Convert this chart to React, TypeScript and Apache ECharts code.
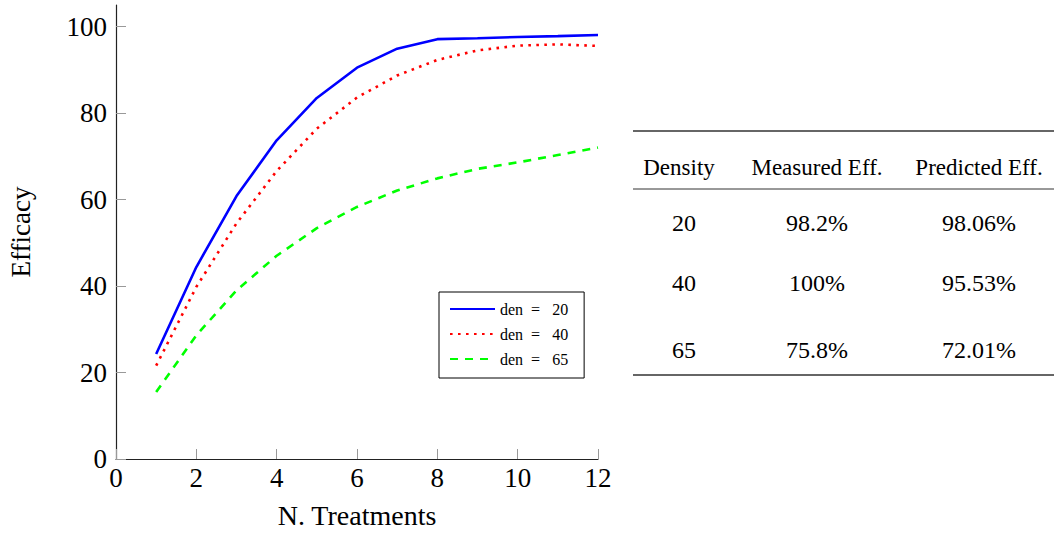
import React, { useEffect, useRef } from "react";
import * as echarts from "echarts";

const treatments = [1, 2, 3, 4, 5, 6, 7, 8, 9, 10, 11, 12];
const den20 = [24.3, 44.4, 60.8, 73.7, 83.5, 90.5, 94.9, 97.1, 97.3, 97.6, 97.8, 98.06];
const den40 = [21.6, 39.8, 54.5, 66.6, 76.4, 83.6, 88.7, 92.3, 94.5, 95.6, 95.9, 95.53];
const den65 = [15.5, 28.6, 39.0, 47.0, 53.4, 58.3, 62.1, 64.9, 67.1, 68.6, 70.3, 72.01];
const seriesNames = ["den = 20", "den = 40", "den = 65"];
const yTicks = [0, 20, 40, 60, 80, 100];

const tableHeader = ["Density", "Measured Eff.", "Predicted Eff."];
const tableDensity = ["20", "40", "65"];
const tableMeasured = ["98.2%", "100%", "75.8%"];
const tablePredicted = ["98.06%", "95.53%", "72.01%"];

const FONT = "'Liberation Serif', 'DejaVu Serif', serif";

export default function App() {
  const ref = useRef<HTMLDivElement>(null);
  useEffect(() => {
    if (!ref.current) return;
    const chart = echarts.init(ref.current, undefined, { renderer: "svg" });
    const pair = (ys: number[]) => treatments.map((x, i) => [x, ys[i]]);

    const headerX = [679, 817, 979];
    const colX = [684, 817, 979];
    const rowY = [223, 283, 350];
    const headerY = 167;
    const graphics: any[] = [];
    const rule = (y: number, w: number) => ({
      type: "line",
      shape: { x1: 633, y1: y, x2: 1054, y2: y },
      style: { stroke: "#333", lineWidth: w },
    });
    graphics.push(rule(131, 1.4), rule(189, 1), rule(375, 1.4));
    tableHeader.forEach((h, i) =>
      graphics.push({
        type: "text",
        x: headerX[i],
        y: headerY,
        style: { text: h, font: `23px ${FONT}`, fill: "#000", textAlign: "center", textVerticalAlign: "middle" },
      })
    );
    const cols = [tableDensity, tableMeasured, tablePredicted];
    cols.forEach((col, c) =>
      col.forEach((v, r) =>
        graphics.push({
          type: "text",
          x: colX[c],
          y: rowY[r],
          style: { text: v, font: `24px ${FONT}`, fill: "#000", textAlign: "center", textVerticalAlign: "middle" },
        })
      )
    );

    const lineSeries = (name: string, ys: number[], color: string, type: any) => ({
      name,
      type: "line",
      data: pair(ys),
      symbol: "none",
      lineStyle: { color, width: 2.6, type, cap: "butt" },
      itemStyle: { color },
    });

    chart.setOption({
      animation: false,
      backgroundColor: "#fff",
      textStyle: { fontFamily: FONT },
      grid: { left: 116, right: 456, top: 5, bottom: 75, containLabel: false },
      xAxis: {
        type: "value",
        min: 0,
        max: 12,
        interval: 2,
        name: "N. Treatments",
        nameLocation: "middle",
        nameGap: 42,
        nameTextStyle: { fontSize: 28, color: "#000", fontFamily: FONT },
        axisLine: { onZero: false, lineStyle: { color: "#222", width: 1.2 } },
        axisTick: { inside: true, length: 10, lineStyle: { color: "#999", width: 1 } },
        axisLabel: { fontSize: 27, color: "#000", margin: 5, fontFamily: FONT },
        splitLine: { show: false },
      },
      yAxis: {
        type: "value",
        min: 0,
        max: 105,
        name: "Efficacy",
        nameLocation: "middle",
        nameGap: 82,
        nameTextStyle: { fontSize: 27, color: "#000", fontFamily: FONT },
        axisLine: { show: true, onZero: false, lineStyle: { color: "#222", width: 1.2 } },
        axisTick: { show: true, inside: true, length: 10, customValues: yTicks, lineStyle: { color: "#999", width: 1 } },
        axisLabel: { fontSize: 27, color: "#000", margin: 9, customValues: yTicks, fontFamily: FONT },
        splitLine: { show: false },
      },
      legend: {
        orient: "vertical",
        left: 439,
        top: 292,
        padding: [9, 16, 11, 10],
        itemGap: 9,
        itemWidth: 45,
        itemHeight: 14,
        borderColor: "#000",
        borderWidth: 1,
        borderRadius: 0,
        itemStyle: { opacity: 0 },
        textStyle: { fontSize: 16, color: "#000", fontFamily: FONT },
        formatter: (n: string) => n.replace(" = ", "\u00a0\u00a0=\u00a0\u00a0\u00a0"),
        data: seriesNames,
      },
      series: [
        lineSeries(seriesNames[0], den20, "#0000ff", "solid"),
        lineSeries(seriesNames[1], den40, "#ff0000", [2.6, 5.4]),
        lineSeries(seriesNames[2], den65, "#00ff00", [8, 7]),
      ],
      graphic: graphics,
    });
    return () => chart.dispose();
  }, []);
  return (
    <div
      ref={ref}
      style={{ position: "fixed", left: 0, top: 0, width: 1054, height: 534, background: "#fff" }}
    />
  );
}
